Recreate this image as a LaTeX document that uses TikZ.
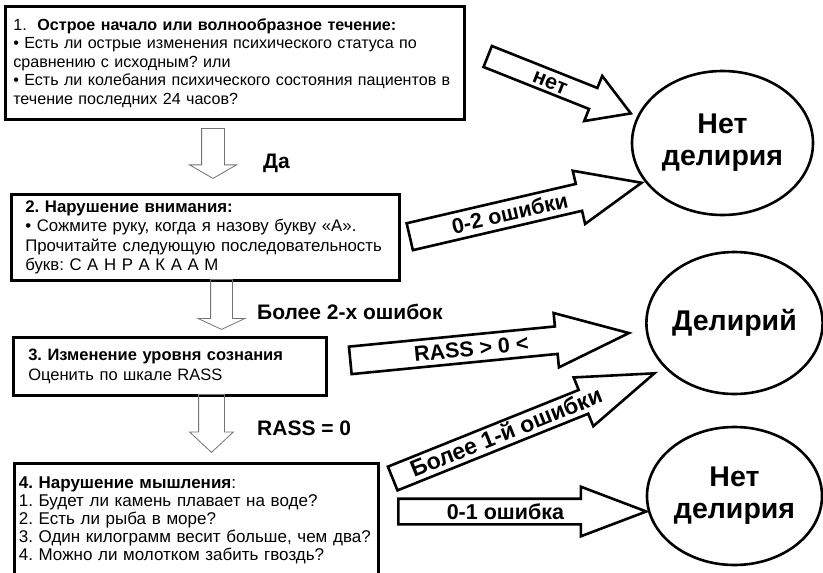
\documentclass[tikz,border=0pt]{standalone}
\usepackage{fontspec}
\setmainfont{Liberation Sans}
\usetikzlibrary{shapes.geometric,shapes.arrows}
\frenchspacing

\tikzset{
  crit/.style={draw, line width=2.6pt, anchor=north west, align=left,
    inner ysep=0pt},
  outcome/.style={draw, ellipse, line width=2.6pt, inner sep=0pt,
    align=center, font=\bfseries\fontsize{28.5}{32}\selectfont},
  flow/.style={single arrow, draw=black!55, line width=0.8pt, anchor=tail,
    rotate=-90, inner xsep=0pt},
  flowlabel/.style={anchor=west, inner sep=0pt,
    font=\bfseries\fontsize{21}{21}\selectfont},
  answer/.style={single arrow, draw, line width=2.6pt, anchor=tail,
    inner xsep=0pt, text height=16pt, text depth=1pt,
    font=\bfseries\fontsize{21.5}{21.5}\selectfont}
}

\begin{document}
\begin{tikzpicture}[x=1pt,y=-1pt]
\clip (0,0) rectangle (823,573);

% criteria boxes
\node[crit, minimum width=459pt, minimum height=113pt, inner xsep=8pt, text width=443pt,
  font=\fontsize{16.1}{18.5}\selectfont] (acute) at (4,5)
  {1.\ \ \textbf{Острое начало или волнообразное течение:}\\
   • Есть ли острые изменения психического статуса по\\
   сравнению с исходным? или\\
   • Есть ли колебания психического состояния пациентов в\\
   течение последних 24 часов?};
\node[crit, minimum width=388pt, minimum height=86pt, inner xsep=14pt, text width=360pt,
  font=\fontsize{16.8}{19.3}\selectfont] (attn) at (10,193)
  {\textbf{2. Нарушение внимания:}\\
   • Сожмите руку, когда я назову букву «А».\\
   Прочитайте следующую последовательность\\
   букв: С А Н Р А К А А М};
\node[crit, minimum width=313pt, minimum height=58pt, inner xsep=15pt, text width=283pt,
  font=\fontsize{16.5}{20}\selectfont] (level) at (12,336)
  {\textbf{3. Изменение уровня сознания}\\
   Оценить по шкале RASS};
\node[crit, minimum width=364pt, minimum height=114pt, inner xsep=4.5pt, text width=355pt,
  font=\fontsize{17}{18}\selectfont] (think) at (13,462)
  {\textbf{4. Нарушение мышления}:\\
   1. Будет ли камень плавает на воде?\\
   2. Есть ли рыба в море?\\
   3. Один килограмм весит больше, чем два?\\
   4. Можно ли молотком забить гвоздь?};

% outcomes
\node[outcome, minimum width=181pt, minimum height=144pt] (nodel1) at (722.5,143) {Нет\\делирия};
\node[outcome, minimum width=175pt, minimum height=142pt] (delir) at (734.5,323) {Делирий};
\node[outcome, minimum width=175pt, minimum height=138pt] (nodel2) at (734.5,496) {Нет\\делирия};

% down arrows
\node[flow, minimum height=50pt, inner ysep=11pt, single arrow head extend=12pt,
  single arrow tip angle=120] (d1) at (213,128) {};
\node[flow, minimum height=50pt, inner ysep=10.5pt, single arrow head extend=12.5pt,
  single arrow tip angle=130] (d2) at (221.5,279) {};
\node[flow, minimum height=58pt, inner ysep=12.5pt, single arrow head extend=9pt,
  single arrow tip angle=94] (d3) at (211.5,394) {};

\node[flowlabel] (yes) at (263,163) {Да};
\node[flowlabel] (more2) at (257,312) {Более 2-х ошибок};
\node[flowlabel] (rass0) at (257,428) {RASS = 0};

% answer arrows
\node[answer, minimum height=154pt, minimum width=46pt, inner ysep=1.5pt,
  single arrow head extend=13pt, single arrow tip angle=62, rotate=-21.7] (no) at (486.5,56) {нет};
\node[answer, minimum height=238pt, minimum width=52pt, inner ysep=4pt,
  single arrow head extend=13.5pt, single arrow tip angle=46, rotate=13.1] (err02) at (408.5,237) {0-2 ошибки};
\node[answer, minimum height=280pt, minimum width=52pt, inner ysep=4pt,
  single arrow head extend=13.5pt, single arrow tip angle=41, rotate=5.6] (rassne) at (349,360.5) {RASS > 0 <};
\node[answer, minimum height=282pt, minimum width=50pt, inner ysep=3pt,
  single arrow head extend=13.5pt, single arrow tip angle=38, rotate=21.9,
  font=\bfseries\fontsize{23}{23}\selectfont] (err1) at (391.5,479) {Более 1-й ошибки};
\node[answer, minimum height=248pt, minimum width=47pt, inner ysep=3pt,
  single arrow head extend=12pt, single arrow tip angle=41.5] (err01) at (397,511.5) {0-1 ошибка};

\end{tikzpicture}
\end{document}
